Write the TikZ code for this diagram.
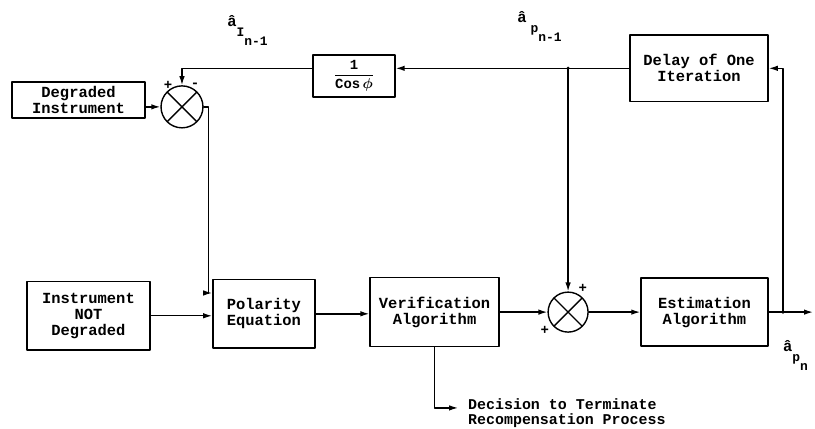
\documentclass[tikz,border=0pt]{standalone}
\usepackage{amsmath}
\usepackage{fontspec}
\setmonofont{Liberation Mono}
\usetikzlibrary{arrows.meta,calc,positioning}

\begin{document}
\begin{tikzpicture}[font=\ttfamily\bfseries\fontsize{15.5}{16}\selectfont,
  >={Latex[length=9pt,width=5.5pt]},line cap=round,line join=round,
  wire/.style={line width=1.4pt},
  block/.style={draw,line width=1.4pt,align=center,inner sep=2pt},
  junc/.style={draw,circle,line width=1.4pt,inner sep=0pt,minimum size=#1,
    path picture={\draw[line width=1.4pt]
      (path picture bounding box.north west)--(path picture bounding box.south east)
      (path picture bounding box.north east)--(path picture bounding box.south west);}},
  sgn/.style={inner sep=0pt,font=\ttfamily\bfseries\fontsize{14}{14}\selectfont},
  sub/.style={inner sep=0pt,anchor=base west}]
  \useasboundingbox (0,0) rectangle (28.75,15.13);

  % upper row
  \node[block,minimum width=4.69cm,minimum height=1.27cm] (deg) at (2.77,11.60)
    {Degraded\\Instrument};
  \node[junc=1.48cm] (sum1) at (6.42,11.36) {};
  \node[block,minimum width=2.89cm,minimum height=1.48cm] (cos) at (12.49,12.45)
    {\raisebox{5pt}{\fontsize{14}{14}\selectfont
      $\dfrac{\text{1}}{\text{Cos}\,\boldsymbol{\phi}}$}};
  \node[block,minimum width=4.87cm,minimum height=2.36cm] (delay) at (24.66,12.72)
    {Delay of One\\Iteration};

  % lower row
  \node[block,minimum width=4.34cm,minimum height=2.40cm] (inst) at (3.12,3.99)
    {Instrument\\NOT\\Degraded};
  \node[block,minimum width=3.60cm,minimum height=2.40cm] (pol) at (9.31,4.06)
    {Polarity\\Equation};
  \node[block,minimum width=4.55cm,minimum height=2.43cm] (ver) at (15.33,4.12)
    {Verification\\Algorithm};
  \node[junc=1.41cm] (sum2) at (20.04,4.12) {};
  \node[block,minimum width=4.48cm,minimum height=2.40cm] (est) at (24.85,4.12)
    {Estimation\\Algorithm};

  % signs
  \node[sgn] (p1) at (5.93,12.13) {+};
  \node[sgn] (m1) at (6.88,12.13) {-};
  \node[sgn] (p2) at (20.56,4.97) {+};
  \node[sgn] (p3) at (19.22,3.49) {+};

  % estimates
  \node[sub] (aIn) at (8.01,14.18)
    {\^a\raisebox{-10pt}{\fontsize{13}{13}\selectfont I\raisebox{-9pt}{n-1}}};
  \node[sub] (aPn) at (18.24,14.32)
    {\^a\kern4pt\raisebox{-10pt}{\fontsize{13}{13}\selectfont p\raisebox{-9pt}{n-1}}};
  \node[sub] (aOut) at (27.62,2.72)
    {\^a\raisebox{-10pt}{\fontsize{13}{13}\selectfont p\raisebox{-9pt}{n}}};

  \coordinate (fb) at (delay.west -| sum2.north);
  \coordinate (tap) at (27.62,4.12);
  \coordinate (out) at (28.68,4.12);
  \coordinate (decin) at (16.16,.74);
  \node[anchor=west,inner sep=0pt,align=left,
    font=\ttfamily\bfseries\fontsize{15}{15.5}\selectfont] (dec) at (16.51,.56)
    {Decision to Terminate\\Recompensation Process};

  % connectors
  \draw[wire,->] (deg.east |- sum1.west) -- (sum1.west);
  \draw[wire,->] (cos.west |- delay.west) -| (sum1.north);
  \draw[wire,->] (sum1.east) -- ++(.18,0)
    |- ($(pol.north west)!.2!(pol.south west)$);
  \draw[wire,->] (inst.east) -- (inst.east -| pol.west);
  \draw[wire,->] (pol.east) -- (pol.east -| ver.west);
  \draw[wire,->] (ver.east) -- (sum2.west);
  \draw[wire,->] (sum2.east) -- (est.west);
  \draw[wire,->] (est.east) -- (out);
  \draw[wire,->] (tap) |- (delay.east);
  \draw[wire,->] (delay.west) -- (delay.west -| cos.east);
  \draw[wire,->] (fb) -- (sum2.north);
  \draw[wire,->] (ver.south) |- (decin);
  \fill (fb) circle (1.8pt);
  \fill (tap) circle (1.8pt);
\end{tikzpicture}
\end{document}
